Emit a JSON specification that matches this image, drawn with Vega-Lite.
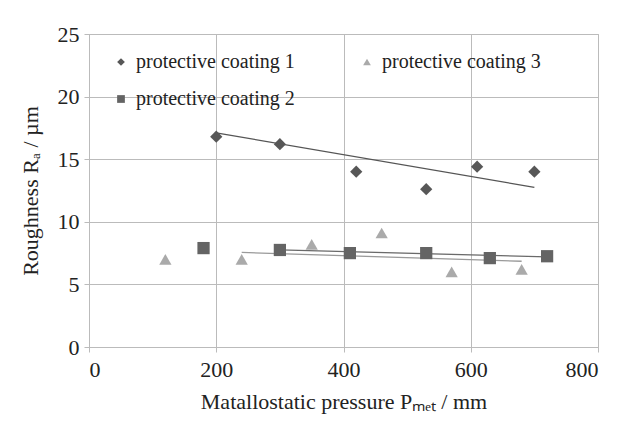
{
  "$schema": "https://vega.github.io/schema/vega-lite/v6.json",
  "autosize": "none",
  "width": 509,
  "height": 313,
  "padding": {"left": 89, "top": 34, "right": 22, "bottom": 78},
  "background": "white",
  "config": {
    "font": "Liberation Serif",
    "view": {"stroke": "#bbbbbb", "strokeWidth": 1},
    "axis": {
      "labelFont": "Liberation Serif",
      "titleFont": "Liberation Serif",
      "labelFontSize": 22,
      "titleFontSize": 22,
      "titleFontWeight": "normal",
      "labelColor": "#222222",
      "titleColor": "#222222",
      "gridColor": "#bbbbbb",
      "domainColor": "#bbbbbb",
      "tickColor": "#bbbbbb",
      "tickSize": 5
    },
    "legend": {
      "labelFont": "Liberation Serif",
      "labelFontSize": 20,
      "labelColor": "#222222"
    }
  },
  "datasets": {
    "points": [
      {"series": "protective coating 1", "x": 200, "y": 16.8},
      {"series": "protective coating 1", "x": 300, "y": 16.2},
      {"series": "protective coating 1", "x": 420, "y": 14.0},
      {"series": "protective coating 1", "x": 530, "y": 12.6},
      {"series": "protective coating 1", "x": 610, "y": 14.4},
      {"series": "protective coating 1", "x": 700, "y": 14.0},
      {"series": "protective coating 2", "x": 180, "y": 7.9},
      {"series": "protective coating 2", "x": 300, "y": 7.75},
      {"series": "protective coating 2", "x": 410, "y": 7.5},
      {"series": "protective coating 2", "x": 530, "y": 7.5},
      {"series": "protective coating 2", "x": 630, "y": 7.1},
      {"series": "protective coating 2", "x": 720, "y": 7.25},
      {"series": "protective coating 3", "x": 120, "y": 7.0},
      {"series": "protective coating 3", "x": 240, "y": 7.0},
      {"series": "protective coating 3", "x": 350, "y": 8.2},
      {"series": "protective coating 3", "x": 460, "y": 9.1},
      {"series": "protective coating 3", "x": 570, "y": 6.0},
      {"series": "protective coating 3", "x": 680, "y": 6.2}
    ],
    "trends": [
      {"series": "trend 1", "x": 200, "y": 17.1},
      {"series": "trend 1", "x": 700, "y": 12.75},
      {"series": "trend 2", "x": 300, "y": 7.75},
      {"series": "trend 2", "x": 720, "y": 7.2},
      {"series": "trend 3", "x": 240, "y": 7.55},
      {"series": "trend 3", "x": 680, "y": 6.85}
    ]
  },
  "encoding": {
    "x": {"field": "x", "type": "quantitative", "scale": {"domain": [0, 800]},
          "axis": {"values": [0, 200, 400, 600, 800], "title": "Matallostatic pressure  Pₘₑₜ / mm", "titlePadding": 11, "labelPadding": 7,
                   "labelFont": "Liberation Serif", "labelFontSize": 22}},
    "y": {"field": "y", "type": "quantitative", "scale": {"domain": [0, 25]},
          "axis": {"values": [0, 5, 10, 15, 20, 25], "title": "Roughness Rₐ / µm", "titlePadding": 15, "labelPadding": 5,
                   "labelFont": "Liberation Serif", "labelFontSize": 22}}
  },
  "layer": [
    {
      "data": {"name": "trends"},
      "mark": {"type": "line", "strokeWidth": 1.3},
      "encoding": {
        "detail": {"field": "series"},
        "stroke": {"field": "series", "type": "nominal", "legend": null,
                   "scale": {"domain": ["trend 1", "trend 2", "trend 3"], "range": ["#555555", "#6a6a6a", "#9a9a9a"]}}
      }
    },
    {
      "data": {"name": "points"},
      "mark": {"type": "point", "filled": true, "opacity": 1, "size": 150},
      "encoding": {
        "color": {"field": "series", "type": "nominal",
                  "scale": {"domain": ["protective coating 1", "protective coating 2", "protective coating 3"], "range": ["#575757", "#646464", "#aaaaaa"]},
                  "legend": {"title": null, "orient": "none", "legendX": 22, "legendY": 18, "columns": 2, "columnPadding": 62, "rowPadding": 17, "symbolSize": 60, "labelOffset": 5}},
        "shape": {"field": "series", "type": "nominal",
                  "scale": {"domain": ["protective coating 1", "protective coating 2", "protective coating 3"], "range": ["diamond", "square", "triangle-up"]},
                  "legend": {"title": null, "orient": "none", "legendX": 22, "legendY": 18, "columns": 2, "columnPadding": 62, "rowPadding": 17, "symbolSize": 60, "labelOffset": 5}}
      }
    }
  ]
}
